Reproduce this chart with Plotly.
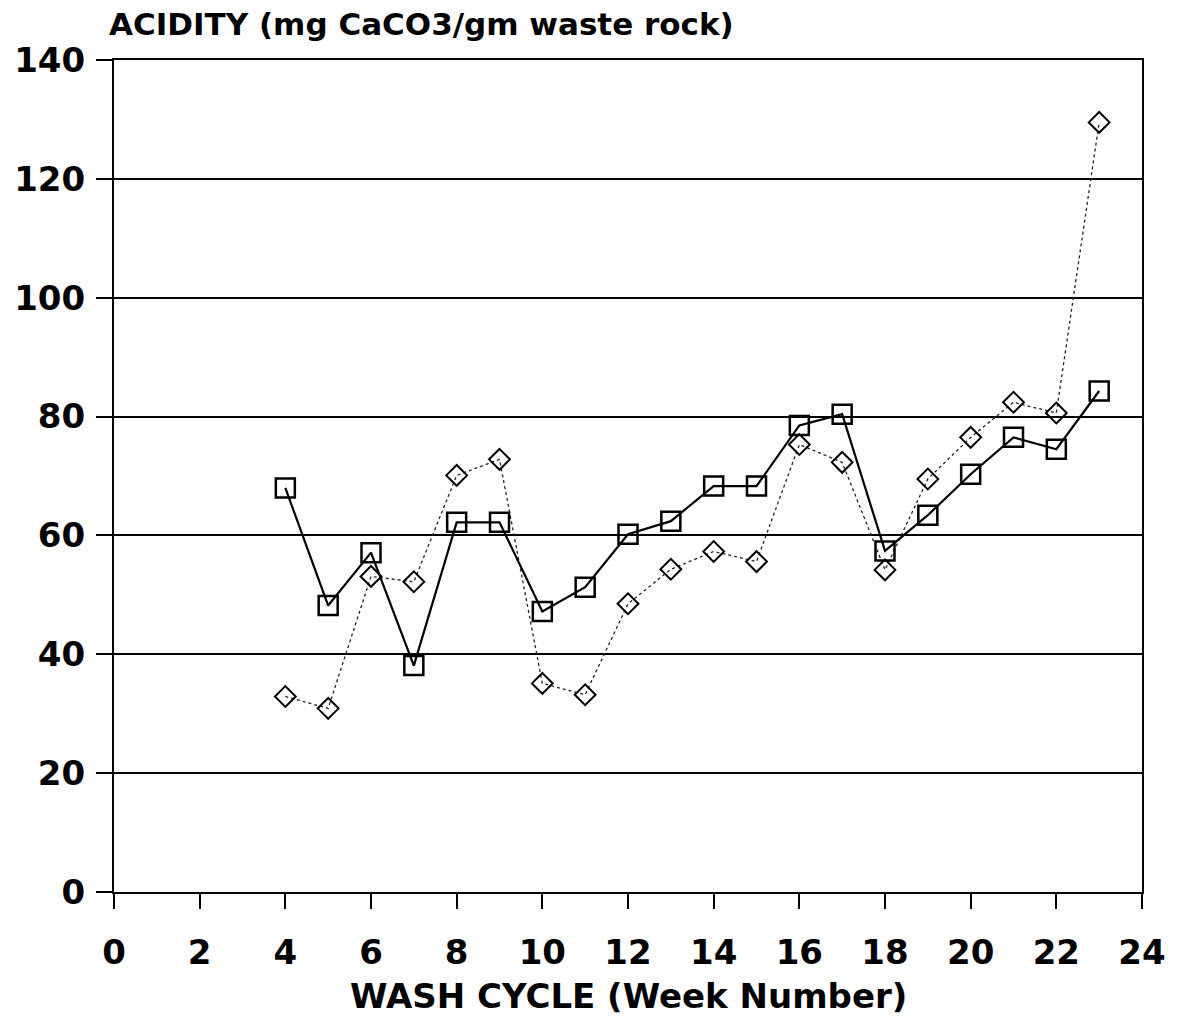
import plotly.graph_objects as go

weeks = list(range(4, 24))
acidity_squares = [68, 48.2, 57.1, 38.1, 62.2, 62.2, 47.2, 51.3, 60.2, 62.4,
                   68.3, 68.3, 78.5, 80.4, 57.4, 63.4, 70.3, 76.5, 74.5, 84.3]
acidity_diamonds = [32.9, 30.9, 53.1, 52.2, 70.1, 72.8, 35.1, 33.2, 48.5, 54.3,
                    57.3, 55.6, 75.3, 72.3, 54.2, 69.5, 76.5, 82.4, 80.6, 129.5]
x_ticks = list(range(0, 25, 2))
y_ticks = list(range(0, 141, 20))

FONT = "DejaVu Sans"

fig = go.Figure()
fig.add_trace(go.Scatter(
    x=weeks, y=acidity_diamonds, mode="lines+markers",
    line=dict(color="#222222", width=1.3, dash="dot"),
    marker=dict(symbol="diamond-open", size=16, color="black",
                line=dict(color="black", width=2)),
    showlegend=False))
fig.add_trace(go.Scatter(
    x=weeks, y=acidity_squares, mode="lines+markers",
    line=dict(color="black", width=2.2),
    marker=dict(symbol="square-open", size=19, color="black",
                line=dict(color="black", width=2.5)),
    showlegend=False))

tickfont = dict(family=FONT, size=34, color="black", weight="bold")

fig.update_xaxes(
    range=[0, 24], tickvals=x_ticks, ticktext=[str(v) for v in x_ticks],
    ticks="outside", ticklen=15, tickwidth=2, tickcolor="black",
    showline=True, linecolor="black", linewidth=2, mirror=True,
    showgrid=False, zeroline=False, tickfont=tickfont, ticklabelstandoff=14)
fig.update_yaxes(
    range=[0, 140], tickvals=y_ticks, ticktext=[str(v) for v in y_ticks],
    ticks="outside", ticklen=16, tickwidth=2, tickcolor="black",
    showline=True, linecolor="black", linewidth=2, mirror=True,
    showgrid=True, gridcolor="black", gridwidth=1.6,
    zeroline=False, tickfont=tickfont, ticklabelstandoff=4)

fig.add_annotation(
    text="ACIDITY (mg CaCO3/gm waste rock)", xref="paper", yref="paper",
    x=-0.007, y=1, xanchor="left", yanchor="middle", yshift=36,
    showarrow=False, font=dict(family=FONT, size=31, color="black", weight="bold"))
fig.add_annotation(
    text="WASH CYCLE (Week Number)", xref="paper", yref="paper",
    x=0.5, y=0, xanchor="center", yanchor="middle", yshift=-104,
    showarrow=False, font=dict(family=FONT, size=34, color="black", weight="bold"))

fig.update_layout(
    width=1178, height=1029,
    margin=dict(l=114, r=33, t=60, b=137),
    paper_bgcolor="white", plot_bgcolor="white",
)

fig.write_html("out.html")
